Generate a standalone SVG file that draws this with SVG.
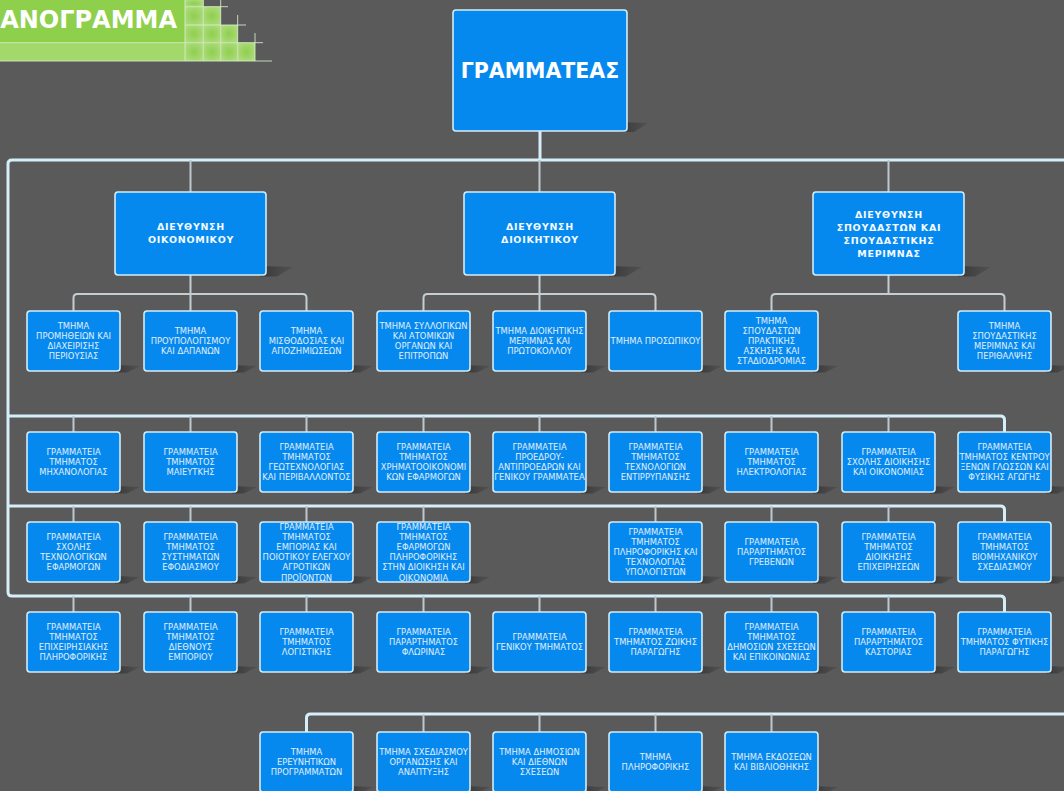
<svg xmlns="http://www.w3.org/2000/svg" width="1064" height="791" viewBox="0 0 1064 791">
<style>
.bg{fill:#5a5a5a}
.bx{fill:#0689ef;stroke:#d3ecf8;stroke-width:1.6}
.t{font-family:"DejaVu Sans",Verdana,sans-serif;font-size:8.4px;fill:#e0effa;text-anchor:middle}
.d{font-family:"DejaVu Sans",Verdana,sans-serif;font-size:9.5px;font-weight:bold;fill:#f4faff;text-anchor:middle;letter-spacing:0.7px}
.s{font-family:"DejaVu Sans",Verdana,sans-serif;font-size:20.5px;font-weight:bold;fill:#ffffff;text-anchor:middle}
.ttl{font-family:"DejaVu Sans",Verdana,sans-serif;font-size:24px;font-weight:bold;fill:#ffffff;text-anchor:end}
.bus{fill:none;stroke:#d6eef8;stroke-width:3}
.sub{fill:none;stroke:#c3cdd2;stroke-width:2}
.drop{fill:none;stroke:#bcc8ce;stroke-width:2}
.grid{stroke:#d9efc9;stroke-width:1;opacity:0.85;fill:none}
.cell{fill:url(#cg)}
</style>
<defs>
<linearGradient id="shg" x1="0" y1="0" x2="1" y2="0">
<stop offset="0" stop-color="#303030" stop-opacity="0.85"/>
<stop offset="1" stop-color="#404040" stop-opacity="0.35"/>
</linearGradient>
<radialGradient id="cg" cx="0.5" cy="0.5" r="0.7">
<stop offset="0" stop-color="#8fce4f"/>
<stop offset="1" stop-color="#b2df84"/>
</radialGradient>
<g id="sbox"><path d="M88,54 L113,55 L100,61.5 L88,61.5 Z" fill="url(#shg)"/><rect class="bx" width="93" height="60" rx="3"/></g>
<g id="dbox"><path d="M145,74 L178,75 L162,84.5 L145,84.5 Z" fill="url(#shg)"/><rect class="bx" width="151" height="83" rx="3"/></g>
</defs>
<rect class="bg" x="0" y="0" width="1064" height="791"/>

<g id="banner">
<rect x="0" y="0" width="185" height="43" fill="#8ecf4c"/>
<rect x="0" y="43" width="185" height="18" fill="#a3d86a"/>
<rect class="cell" x="185" y="0" width="18.3" height="6.7"/>
<rect class="cell" x="185" y="6.7" width="18.3" height="18.3"/>
<rect class="cell" x="203.3" y="6.7" width="17.4" height="18.3"/>
<rect class="cell" x="185" y="25" width="18.3" height="17.7"/>
<rect class="cell" x="203.3" y="25" width="17.4" height="17.7"/>
<rect class="cell" x="220.7" y="25" width="17" height="17.7"/>
<rect class="cell" x="185" y="42.7" width="18.3" height="18.3"/>
<rect class="cell" x="203.3" y="42.7" width="17.4" height="18.3"/>
<rect class="cell" x="220.7" y="42.7" width="17" height="18.3"/>
<rect class="cell" x="237.7" y="42.7" width="17.3" height="18.3"/>
<path class="grid" d="M185,6.7 H228 M185,25 H246 M0,42.7 H263 M0,61 H272 M185,0 V61 M203.3,0 V61 M220.7,0 V61 M237.7,15 V61 M255,33 V61"/>
<text class="ttl" x="177" y="28">ΑΝΟΓΡΑΜΜΑ</text>
</g>

<g id="connectors">
<path class="bus" d="M1064,160 H12 Q8,160 8,164 V592 Q8,596 12,596 H1000.5 Q1004.5,596 1004.5,600 V612"/>
<path class="bus" d="M8,416 H1000.5 Q1004.5,416 1004.5,420 V432"/>
<path class="bus" d="M8,506 H1000.5 Q1004.5,506 1004.5,510 V522"/>
<path class="bus" d="M1064,714 H310.5 Q306.5,714 306.5,718 V732"/>
<path class="bus" d="M540,131 V160"/>
<path class="drop" d="M190.5,160 V192 M539.5,160 V192 M888.5,160 V192"/>
<path class="sub" d="M190.5,275 V311 M73.5,311 V298 Q73.5,294 77.5,294 H302.5 Q306.5,294 306.5,298 V311"/>
<path class="sub" d="M539.5,275 V311 M423.5,311 V298 Q423.5,294 427.5,294 H651.5 Q655.5,294 655.5,298 V311"/>
<path class="sub" d="M888.5,275 V294 M771.5,311 V298 Q771.5,294 775.5,294 H1000.5 Q1004.5,294 1004.5,298 V311"/>
<path class="drop" d="M73.5,416 V432 M190.5,416 V432 M306.5,416 V432 M423.5,416 V432 M539.5,416 V432 M655.5,416 V432 M771.5,416 V432 M888.5,416 V432"/>
<path class="drop" d="M73.5,506 V522 M190.5,506 V522 M306.5,506 V522 M423.5,506 V522 M655.5,506 V522 M771.5,506 V522 M888.5,506 V522"/>
<path class="drop" d="M73.5,596 V612 M190.5,596 V612 M306.5,596 V612 M423.5,596 V612 M539.5,596 V612 M655.5,596 V612 M771.5,596 V612 M888.5,596 V612"/>
<path class="drop" d="M423.5,714 V732 M539.5,714 V732 M655.5,714 V732 M771.5,714 V732"/>
</g>

<g id="n-grammateas">
<path d="M620,122 L648,123 L634,132 L620,132 Z" fill="url(#shg)"/>
<rect class="bx" x="453" y="10" width="174" height="121" rx="3"/>
<text class="s" x="540" y="78">ΓΡΑΜΜΑΤΕΑΣ</text>
</g>

<g id="n-dir-oikonomikou">
<use href="#dbox" x="115" y="192"/>
<text class="d" x="191" y="229.5">ΔΙΕΥΘΥΝΣΗ<tspan x="191" dy="13">ΟΙΚΟΝΟΜΙΚΟΥ</tspan></text>
</g>
<g id="n-dir-dioikitikou">
<use href="#dbox" x="464" y="192"/>
<text class="d" x="540" y="229.5">ΔΙΕΥΘΥΝΣΗ<tspan x="540" dy="13">ΔΙΟΙΚΗΤΙΚΟΥ</tspan></text>
</g>
<g id="n-dir-spoudaston">
<use href="#dbox" x="813" y="192"/>
<text class="d" x="889" y="217.5">ΔΙΕΥΘΥΝΣΗ<tspan x="889" dy="13">ΣΠΟΥΔΑΣΤΩΝ ΚΑΙ</tspan><tspan x="889" dy="13">ΣΠΟΥΔΑΣΤΙΚΗΣ</tspan><tspan x="889" dy="13">ΜΕΡΙΜΝΑΣ</tspan></text>
</g>

<!-- Row 1 -->
<g id="n-r1c1"><use href="#sbox" x="27" y="311"/>
<text class="t" x="73.5" y="328.7">ΤΜΗΜΑ<tspan x="73.5" dy="10.2">ΠΡΟΜΗΘΕΙΩΝ ΚΑΙ</tspan><tspan x="73.5" dy="10.2">ΔΙΑΧΕΙΡΙΣΗΣ</tspan><tspan x="73.5" dy="10.2">ΠΕΡΙΟΥΣΙΑΣ</tspan></text></g>
<g id="n-r1c2"><use href="#sbox" x="144" y="311"/>
<text class="t" x="190.5" y="333.8">ΤΜΗΜΑ<tspan x="190.5" dy="10.2">ΠΡΟΥΠΟΛΟΓΙΣΜΟΥ</tspan><tspan x="190.5" dy="10.2">ΚΑΙ ΔΑΠΑΝΩΝ</tspan></text></g>
<g id="n-r1c3"><use href="#sbox" x="260" y="311"/>
<text class="t" x="306.5" y="333.8">ΤΜΗΜΑ<tspan x="306.5" dy="10.2">ΜΙΣΘΟΔΟΣΙΑΣ ΚΑΙ</tspan><tspan x="306.5" dy="10.2">ΑΠΟΖΗΜΙΩΣΕΩΝ</tspan></text></g>
<g id="n-r1c4"><use href="#sbox" x="377" y="311"/>
<text class="t" x="423.5" y="328.7">ΤΜΗΜΑ ΣΥΛΛΟΓΙΚΩΝ<tspan x="423.5" dy="10.2">ΚΑΙ ΑΤΟΜΙΚΩΝ</tspan><tspan x="423.5" dy="10.2">ΟΡΓΑΝΩΝ ΚΑΙ</tspan><tspan x="423.5" dy="10.2">ΕΠΙΤΡΟΠΩΝ</tspan></text></g>
<g id="n-r1c5"><use href="#sbox" x="493" y="311"/>
<text class="t" x="539.5" y="333.8">ΤΜΗΜΑ ΔΙΟΙΚΗΤΙΚΗΣ<tspan x="539.5" dy="10.2">ΜΕΡΙΜΝΑΣ ΚΑΙ</tspan><tspan x="539.5" dy="10.2">ΠΡΩΤΟΚΟΛΛΟΥ</tspan></text></g>
<g id="n-r1c6"><use href="#sbox" x="609" y="311"/>
<text class="t" x="655.5" y="344">ΤΜΗΜΑ ΠΡΟΣΩΠΙΚΟΥ</text></g>
<g id="n-r1c7"><use href="#sbox" x="725" y="311"/>
<text class="t" x="771.5" y="323.6">ΤΜΗΜΑ<tspan x="771.5" dy="10.2">ΣΠΟΥΔΑΣΤΩΝ</tspan><tspan x="771.5" dy="10.2">ΠΡΑΚΤΙΚΗΣ</tspan><tspan x="771.5" dy="10.2">ΑΣΚΗΣΗΣ ΚΑΙ</tspan><tspan x="771.5" dy="10.2">ΣΤΑΔΙΟΔΡΟΜΙΑΣ</tspan></text></g>
<g id="n-r1c9"><use href="#sbox" x="958" y="311"/>
<text class="t" x="1004.5" y="328.7">ΤΜΗΜΑ<tspan x="1004.5" dy="10.2">ΣΠΟΥΔΑΣΤΙΚΗΣ</tspan><tspan x="1004.5" dy="10.2">ΜΕΡΙΜΝΑΣ ΚΑΙ</tspan><tspan x="1004.5" dy="10.2">ΠΕΡΙΘΑΛΨΗΣ</tspan></text></g>

<!-- Row 2 -->
<g id="n-r2c1"><use href="#sbox" x="27" y="432"/>
<text class="t" x="73.5" y="454.8">ΓΡΑΜΜΑΤΕΙΑ<tspan x="73.5" dy="10.2">ΤΜΗΜΑΤΟΣ</tspan><tspan x="73.5" dy="10.2">ΜΗΧΑΝΟΛΟΓΙΑΣ</tspan></text></g>
<g id="n-r2c2"><use href="#sbox" x="144" y="432"/>
<text class="t" x="190.5" y="454.8">ΓΡΑΜΜΑΤΕΙΑ<tspan x="190.5" dy="10.2">ΤΜΗΜΑΤΟΣ</tspan><tspan x="190.5" dy="10.2">ΜΑΙΕΥΤΚΗΣ</tspan></text></g>
<g id="n-r2c3"><use href="#sbox" x="260" y="432"/>
<text class="t" x="306.5" y="449.7">ΓΡΑΜΜΑΤΕΙΑ<tspan x="306.5" dy="10.2">ΤΜΗΜΑΤΟΣ</tspan><tspan x="306.5" dy="10.2">ΓΕΩΤΕΧΝΟΛΟΓΙΑΣ</tspan><tspan x="306.5" dy="10.2">ΚΑΙ ΠΕΡΙΒΑΛΛΟΝΤΟΣ</tspan></text></g>
<g id="n-r2c4"><use href="#sbox" x="377" y="432"/>
<text class="t" x="423.5" y="449.7">ΓΡΑΜΜΑΤΕΙΑ<tspan x="423.5" dy="10.2">ΤΜΗΜΑΤΟΣ</tspan><tspan x="423.5" dy="10.2">ΧΡΗΜΑΤΟΟΙΚΟΝΟΜΙ</tspan><tspan x="423.5" dy="10.2">ΚΩΝ ΕΦΑΡΜΟΓΩΝ</tspan></text></g>
<g id="n-r2c5"><use href="#sbox" x="493" y="432"/>
<text class="t" x="539.5" y="449.7">ΓΡΑΜΜΑΤΕΙΑ<tspan x="539.5" dy="10.2">ΠΡΟΕΔΡΟΥ-</tspan><tspan x="539.5" dy="10.2">ΑΝΤΙΠΡΟΕΔΡΩΝ ΚΑΙ</tspan><tspan x="539.5" dy="10.2">ΓΕΝΙΚΟΥ ΓΡΑΜΜΑΤΕΑ</tspan></text></g>
<g id="n-r2c6"><use href="#sbox" x="609" y="432"/>
<text class="t" x="655.5" y="449.7">ΓΡΑΜΜΑΤΕΙΑ<tspan x="655.5" dy="10.2">ΤΜΗΜΑΤΟΣ</tspan><tspan x="655.5" dy="10.2">ΤΕΧΝΟΛΟΓΙΩΝ</tspan><tspan x="655.5" dy="10.2">ΕΝΤΙΡΡΥΠΑΝΣΗΣ</tspan></text></g>
<g id="n-r2c7"><use href="#sbox" x="725" y="432"/>
<text class="t" x="771.5" y="454.8">ΓΡΑΜΜΑΤΕΙΑ<tspan x="771.5" dy="10.2">ΤΜΗΜΑΤΟΣ</tspan><tspan x="771.5" dy="10.2">ΗΛΕΚΤΡΟΛΟΓΙΑΣ</tspan></text></g>
<g id="n-r2c8"><use href="#sbox" x="842" y="432"/>
<text class="t" x="888.5" y="454.8">ΓΡΑΜΜΑΤΕΙΑ<tspan x="888.5" dy="10.2">ΣΧΟΛΗΣ ΔΙΟΙΚΗΣΗΣ</tspan><tspan x="888.5" dy="10.2">ΚΑΙ ΟΙΚΟΝΟΜΙΑΣ</tspan></text></g>
<g id="n-r2c9"><use href="#sbox" x="958" y="432"/>
<text class="t" x="1004.5" y="449.7">ΓΡΑΜΜΑΤΕΙΑ<tspan x="1004.5" dy="10.2">ΤΜΗΜΑΤΟΣ ΚΕΝΤΡΟΥ</tspan><tspan x="1004.5" dy="10.2">ΞΕΝΩΝ ΓΛΩΣΣΩΝ ΚΑΙ</tspan><tspan x="1004.5" dy="10.2">ΦΥΣΙΚΗΣ ΑΓΩΓΗΣ</tspan></text></g>

<!-- Row 3 -->
<g id="n-r3c1"><use href="#sbox" x="27" y="522"/>
<text class="t" x="73.5" y="539.7">ΓΡΑΜΜΑΤΕΙΑ<tspan x="73.5" dy="10.2">ΣΧΟΛΗΣ</tspan><tspan x="73.5" dy="10.2">ΤΕΧΝΟΛΟΓΙΚΩΝ</tspan><tspan x="73.5" dy="10.2">ΕΦΑΡΜΟΓΩΝ</tspan></text></g>
<g id="n-r3c2"><use href="#sbox" x="144" y="522"/>
<text class="t" x="190.5" y="539.7">ΓΡΑΜΜΑΤΕΙΑ<tspan x="190.5" dy="10.2">ΤΜΗΜΑΤΟΣ</tspan><tspan x="190.5" dy="10.2">ΣΥΣΤΗΜΑΤΩΝ</tspan><tspan x="190.5" dy="10.2">ΕΦΟΔΙΑΣΜΟΥ</tspan></text></g>
<g id="n-r3c3"><use href="#sbox" x="260" y="522"/>
<text class="t" x="306.5" y="529.5">ΓΡΑΜΜΑΤΕΙΑ<tspan x="306.5" dy="10.2">ΤΜΗΜΑΤΟΣ</tspan><tspan x="306.5" dy="10.2">ΕΜΠΟΡΙΑΣ ΚΑΙ</tspan><tspan x="306.5" dy="10.2">ΠΟΙΟΤΙΚΟΥ ΕΛΕΓΧΟΥ</tspan><tspan x="306.5" dy="10.2">ΑΓΡΟΤΙΚΩΝ</tspan><tspan x="306.5" dy="10.2">ΠΡΟΪΟΝΤΩΝ</tspan></text></g>
<g id="n-r3c4"><use href="#sbox" x="377" y="522"/>
<text class="t" x="423.5" y="529.5">ΓΡΑΜΜΑΤΕΙΑ<tspan x="423.5" dy="10.2">ΤΜΗΜΑΤΟΣ</tspan><tspan x="423.5" dy="10.2">ΕΦΑΡΜΟΓΩΝ</tspan><tspan x="423.5" dy="10.2">ΠΛΗΡΟΦΟΡΙΚΗΣ</tspan><tspan x="423.5" dy="10.2">ΣΤΗΝ ΔΙΟΙΚΗΣΗ ΚΑΙ</tspan><tspan x="423.5" dy="10.2">ΟΙΚΟΝΟΜΙΑ</tspan></text></g>
<g id="n-r3c6"><use href="#sbox" x="609" y="522"/>
<text class="t" x="655.5" y="534.6">ΓΡΑΜΜΑΤΕΙΑ<tspan x="655.5" dy="10.2">ΤΜΗΜΑΤΟΣ</tspan><tspan x="655.5" dy="10.2">ΠΛΗΡΟΦΟΡΙΚΗΣ ΚΑΙ</tspan><tspan x="655.5" dy="10.2">ΤΕΧΝΟΛΟΓΙΑΣ</tspan><tspan x="655.5" dy="10.2">ΥΠΟΛΟΓΙΣΤΩΝ</tspan></text></g>
<g id="n-r3c7"><use href="#sbox" x="725" y="522"/>
<text class="t" x="771.5" y="544.8">ΓΡΑΜΜΑΤΕΙΑ<tspan x="771.5" dy="10.2">ΠΑΡΑΡΤΗΜΑΤΟΣ</tspan><tspan x="771.5" dy="10.2">ΓΡΕΒΕΝΩΝ</tspan></text></g>
<g id="n-r3c8"><use href="#sbox" x="842" y="522"/>
<text class="t" x="888.5" y="539.7">ΓΡΑΜΜΑΤΕΙΑ<tspan x="888.5" dy="10.2">ΤΜΗΜΑΤΟΣ</tspan><tspan x="888.5" dy="10.2">ΔΙΟΙΚΗΣΗΣ</tspan><tspan x="888.5" dy="10.2">ΕΠΙΧΕΙΡΗΣΕΩΝ</tspan></text></g>
<g id="n-r3c9"><use href="#sbox" x="958" y="522"/>
<text class="t" x="1004.5" y="539.7">ΓΡΑΜΜΑΤΕΙΑ<tspan x="1004.5" dy="10.2">ΤΜΗΜΑΤΟΣ</tspan><tspan x="1004.5" dy="10.2">ΒΙΟΜΗΧΑΝΙΚΟΥ</tspan><tspan x="1004.5" dy="10.2">ΣΧΕΔΙΑΣΜΟΥ</tspan></text></g>

<!-- Row 4 -->
<g id="n-r4c1"><use href="#sbox" x="27" y="612"/>
<text class="t" x="73.5" y="629.7">ΓΡΑΜΜΑΤΕΙΑ<tspan x="73.5" dy="10.2">ΤΜΗΜΑΤΟΣ</tspan><tspan x="73.5" dy="10.2">ΕΠΙΧΕΙΡΗΣΙΑΚΗΣ</tspan><tspan x="73.5" dy="10.2">ΠΛΗΡΟΦΟΡΙΚΗΣ</tspan></text></g>
<g id="n-r4c2"><use href="#sbox" x="144" y="612"/>
<text class="t" x="190.5" y="629.7">ΓΡΑΜΜΑΤΕΙΑ<tspan x="190.5" dy="10.2">ΤΜΗΜΑΤΟΣ</tspan><tspan x="190.5" dy="10.2">ΔΙΕΘΝΟΥΣ</tspan><tspan x="190.5" dy="10.2">ΕΜΠΟΡΙΟΥ</tspan></text></g>
<g id="n-r4c3"><use href="#sbox" x="260" y="612"/>
<text class="t" x="306.5" y="634.8">ΓΡΑΜΜΑΤΕΙΑ<tspan x="306.5" dy="10.2">ΤΜΗΜΑΤΟΣ</tspan><tspan x="306.5" dy="10.2">ΛΟΓΙΣΤΙΚΗΣ</tspan></text></g>
<g id="n-r4c4"><use href="#sbox" x="377" y="612"/>
<text class="t" x="423.5" y="634.8">ΓΡΑΜΜΑΤΕΙΑ<tspan x="423.5" dy="10.2">ΠΑΡΑΡΤΗΜΑΤΟΣ</tspan><tspan x="423.5" dy="10.2">ΦΛΩΡΙΝΑΣ</tspan></text></g>
<g id="n-r4c5"><use href="#sbox" x="493" y="612"/>
<text class="t" x="539.5" y="639.9">ΓΡΑΜΜΑΤΕΙΑ<tspan x="539.5" dy="10.2">ΓΕΝΙΚΟΥ ΤΜΗΜΑΤΟΣ</tspan></text></g>
<g id="n-r4c6"><use href="#sbox" x="609" y="612"/>
<text class="t" x="655.5" y="634.8">ΓΡΑΜΜΑΤΕΙΑ<tspan x="655.5" dy="10.2">ΤΜΗΜΑΤΟΣ ΖΩΙΚΗΣ</tspan><tspan x="655.5" dy="10.2">ΠΑΡΑΓΩΓΗΣ</tspan></text></g>
<g id="n-r4c7"><use href="#sbox" x="725" y="612"/>
<text class="t" x="771.5" y="629.7">ΓΡΑΜΜΑΤΕΙΑ<tspan x="771.5" dy="10.2">ΤΜΗΜΑΤΟΣ</tspan><tspan x="771.5" dy="10.2">ΔΗΜΟΣΙΩΝ ΣΧΕΣΕΩΝ</tspan><tspan x="771.5" dy="10.2">ΚΑΙ ΕΠΙΚΟΙΝΩΝΙΑΣ</tspan></text></g>
<g id="n-r4c8"><use href="#sbox" x="842" y="612"/>
<text class="t" x="888.5" y="634.8">ΓΡΑΜΜΑΤΕΙΑ<tspan x="888.5" dy="10.2">ΠΑΡΑΡΤΗΜΑΤΟΣ</tspan><tspan x="888.5" dy="10.2">ΚΑΣΤΟΡΙΑΣ</tspan></text></g>
<g id="n-r4c9"><use href="#sbox" x="958" y="612"/>
<text class="t" x="1004.5" y="634.8">ΓΡΑΜΜΑΤΕΙΑ<tspan x="1004.5" dy="10.2">ΤΜΗΜΑΤΟΣ ΦΥΤΙΚΗΣ</tspan><tspan x="1004.5" dy="10.2">ΠΑΡΑΓΩΓΗΣ</tspan></text></g>

<!-- Row 5 -->
<g id="n-r5c3"><use href="#sbox" x="260" y="732"/>
<text class="t" x="306.5" y="754.8">ΤΜΗΜΑ<tspan x="306.5" dy="10.2">ΕΡΕΥΝΗΤΙΚΩΝ</tspan><tspan x="306.5" dy="10.2">ΠΡΟΓΡΑΜΜΑΤΩΝ</tspan></text></g>
<g id="n-r5c4"><use href="#sbox" x="377" y="732"/>
<text class="t" x="423.5" y="754.8">ΤΜΗΜΑ ΣΧΕΔΙΑΣΜΟΥ<tspan x="423.5" dy="10.2">ΟΡΓΑΝΩΣΗΣ ΚΑΙ</tspan><tspan x="423.5" dy="10.2">ΑΝΑΠΤΥΞΗΣ</tspan></text></g>
<g id="n-r5c5"><use href="#sbox" x="493" y="732"/>
<text class="t" x="539.5" y="754.8">ΤΜΗΜΑ ΔΗΜΟΣΙΩΝ<tspan x="539.5" dy="10.2">ΚΑΙ ΔΙΕΘΝΩΝ</tspan><tspan x="539.5" dy="10.2">ΣΧΕΣΕΩΝ</tspan></text></g>
<g id="n-r5c6"><use href="#sbox" x="609" y="732"/>
<text class="t" x="655.5" y="759.9">ΤΜΗΜΑ<tspan x="655.5" dy="10.2">ΠΛΗΡΟΦΟΡΙΚΗΣ</tspan></text></g>
<g id="n-r5c7"><use href="#sbox" x="725" y="732"/>
<text class="t" x="771.5" y="759.9">ΤΜΗΜΑ ΕΚΔΟΣΕΩΝ<tspan x="771.5" dy="10.2">ΚΑΙ ΒΙΒΛΙΟΘΗΚΗΣ</tspan></text></g>
</svg>
